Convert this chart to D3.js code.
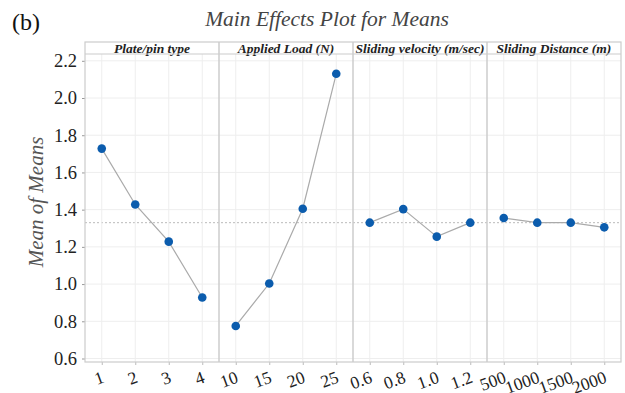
<!DOCTYPE html>
<html>
  <head>
    <meta charset="utf-8" />
    <script src="https://d3js.org/d3.v7.min.js"></script>
    <style>
      body { margin: 0; background: #fff; }
    </style>
  </head>
  <body>
    <div id="chart"></div>
    <script>
      // factor names and levels
      var factors = ["Plate/pin type", "Applied Load (N)", "Sliding velocity (m/sec)", "Sliding Distance (m)"];
      var levels = [
        ["1", "2", "3", "4"],
        ["10", "15", "20", "25"],
        ["0.6", "0.8", "1.0", "1.2"],
        ["500", "1000", "1500", "2000"]
      ];
      var means = [
        [1.728, 1.428, 1.228, 0.928],
        [0.775, 1.003, 1.405, 2.13],
        [1.33, 1.403, 1.255, 1.33],
        [1.355, 1.33, 1.33, 1.305]
      ];
      var grandMean = 1.33;
      var yTicks = [0.6, 0.8, 1.0, 1.2, 1.4, 1.6, 1.8, 2.0, 2.2];

      var serif = "'Liberation Serif', 'Times New Roman', serif";
      var W = 625, H = 393;
      var mLeft = 85, mRight = 621, mTop = 42, strip = 12, mBottom = 362;

      var svg = d3.select("#chart").append("svg")
        .attr("width", W).attr("height", H);

      var y = d3.scaleLinear().domain([0.6, 2.2]).range([358.5, 60.8]);
      var panelW = (mRight - mLeft) / factors.length;

      svg.append("text")
        .attr("x", 12).attr("y", 30)
        .style("font-family", serif)
        .attr("font-size", 24)
        .attr("fill", "#111")
        .text("(b)");

      svg.append("text")
        .attr("x", 327).attr("y", 26)
        .attr("text-anchor", "middle")
        .style("font-family", serif)
        .attr("font-size", 21.5)
        .attr("font-style", "italic")
        .attr("fill", "#444")
        .text("Main Effects Plot for Means");

      svg.append("text")
        .attr("transform", "translate(43,202) rotate(-90)")
        .attr("text-anchor", "middle")
        .style("font-family", serif)
        .attr("font-size", 21)
        .attr("font-style", "italic")
        .attr("fill", "#555")
        .text("Mean of Means");

      // horizontal grid
      svg.append("g").selectAll("line").data(yTicks).join("line")
        .attr("x1", mLeft).attr("x2", mRight)
        .attr("y1", d => y(d)).attr("y2", d => y(d))
        .attr("stroke", "#eeeeee").attr("stroke-width", 1);

      // y axis
      var gY = svg.append("g")
        .attr("transform", "translate(" + mLeft + ",0)")
        .call(d3.axisLeft(y).tickValues(yTicks).tickFormat(d3.format(".1f")).tickSize(3).tickPadding(5));
      gY.select(".domain").remove();
      gY.selectAll(".tick line").attr("stroke", "#999");
      gY.selectAll("text")
        .style("font-family", serif)
        .attr("font-size", 18.5)
        .attr("fill", "#222");

      // mean reference line
      svg.append("line")
        .attr("x1", mLeft).attr("x2", mRight)
        .attr("y1", y(grandMean)).attr("y2", y(grandMean))
        .attr("stroke", "#bbb").attr("stroke-width", 1)
        .attr("stroke-dasharray", "2 2");

      factors.forEach(function(f, i) {
        var x0 = mLeft + i * panelW;
        var x = d3.scalePoint().domain(levels[i]).range([x0, x0 + panelW]).padding(0.5);
        var g = svg.append("g");

        // vertical grid
        g.selectAll("line.vg").data(levels[i]).join("line")
          .attr("class", "vg")
          .attr("x1", d => x(d)).attr("x2", d => x(d))
          .attr("y1", mTop + strip).attr("y2", mBottom)
          .attr("stroke", "#eeeeee");

        // x axis ticks and labels
        var gX = g.append("g")
          .attr("transform", "translate(0," + mBottom + ")")
          .call(d3.axisBottom(x).tickSize(3).tickPadding(0));
        gX.select(".domain").remove();
        gX.selectAll(".tick line").attr("stroke", "#bbb");
        gX.selectAll("text")
          .style("font-family", serif)
          .attr("font-size", 17.5)
          .attr("fill", "#222")
          .attr("text-anchor", "end")
          .attr("dy", 0)
          .attr("y", 0)
          .attr("transform", "translate(3,20) rotate(-20)");

        // strip text
        g.append("text")
          .attr("x", x0 + panelW / 2).attr("y", mTop + strip - 1.5)
          .attr("text-anchor", "middle")
          .style("font-family", serif)
          .attr("font-size", 13.5)
          .attr("font-weight", "bold")
          .attr("font-style", "italic")
          .attr("fill", "#222")
          .text(f);

        var pts = levels[i].map((l, j) => ({ x: x(l), y: y(means[i][j]) }));
        g.append("path")
          .datum(pts)
          .attr("d", d3.line().x(d => d.x).y(d => d.y))
          .attr("fill", "none")
          .attr("stroke", "#aaa")
          .attr("stroke-width", 1.2);
        g.selectAll("circle").data(pts).join("circle")
          .attr("cx", d => d.x).attr("cy", d => d.y)
          .attr("r", 4.3)
          .attr("fill", "#0b5cad");
      });

      // panel frame
      var frame = svg.append("g").attr("fill", "none").attr("stroke", "#cccccc").attr("stroke-width", 1.2);
      frame.append("rect")
        .attr("x", mLeft).attr("y", mTop)
        .attr("width", mRight - mLeft).attr("height", mBottom - mTop);
      frame.append("line")
        .attr("x1", mLeft).attr("x2", mRight)
        .attr("y1", mTop + strip).attr("y2", mTop + strip);
      d3.range(1, factors.length).forEach(function(k) {
        frame.append("line")
          .attr("x1", mLeft + k * panelW).attr("x2", mLeft + k * panelW)
          .attr("y1", mTop).attr("y2", mBottom)
          .attr("stroke-width", 1.5);
      });
    </script>
  </body>
</html>
